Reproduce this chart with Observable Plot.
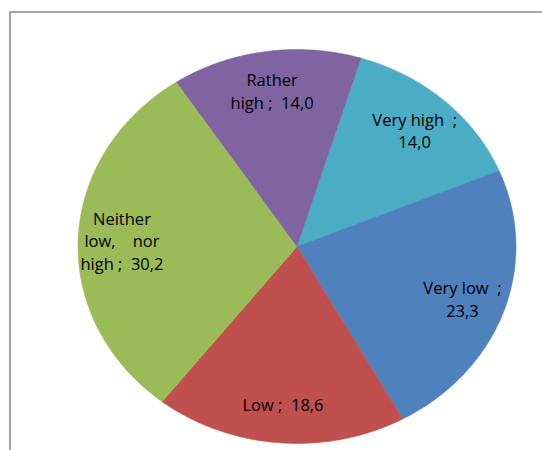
<!DOCTYPE html>
<html>
<head>
<meta charset="utf-8">
<script src="https://cdn.jsdelivr.net/npm/d3@7"></script>
<script src="https://cdn.jsdelivr.net/npm/@observablehq/plot@0.6"></script>
<style>
  html, body { margin: 0; padding: 0; background: #fff; }
  #wrap { position: relative; width: 542px; height: 450px; overflow: hidden; }
  #border { position: absolute; left: 9px; top: 11px; width: 600px; height: 600px;
            border-left: 2px solid #a3a3a3; border-top: 2px solid #a3a3a3; box-sizing: border-box; }
  #chart { position: absolute; left: 0; top: 0; }
  #chart text { white-space: pre; }
</style>
</head>
<body>
<div id="wrap"><div id="border"></div><div id="chart"></div></div>
<script>
// ---- data ----
const categories = ["Very high", "Very low", "Low", "Neither low, nor high", "Rather high"];
const values = [14.0, 23.3, 18.6, 30.2, 14.0];
const labelPrefixes = ["Very high  ;\n", "Very low  ;\n", "Low ;  ", "Neither\nlow,    nor\nhigh ;  ", "Rather\nhigh ;  "];
const colors = ["#4BACC6", "#4F81BD", "#C0504D", "#9BBB59", "#8064A2"];

// ---- geometry ----
const startDeg = 17;          // rotation of first slice (clockwise from top)
const labelR = 0.8;           // label radius as fraction of pie radius
const total = d3.sum(values);
const fmt = v => v.toFixed(1).replace(".", ",");

const slicePts = [];
const labelData = [];
let acc = 0;
categories.forEach((cat, i) => {
  const a0 = startDeg + acc / total * 360;
  acc += values[i];
  const a1 = startDeg + acc / total * 360;
  slicePts.push({cat, x: 0, y: 0});
  const n = Math.max(2, Math.ceil((a1 - a0) / 0.5));
  for (let k = 0; k <= n; k++) {
    const a = (a0 + (a1 - a0) * k / n) * Math.PI / 180;
    slicePts.push({cat, x: Math.sin(a), y: Math.cos(a)});
  }
  slicePts.push({cat, x: 0, y: 0});
  const am = (a0 + a1) / 2 * Math.PI / 180;
  labelData.push({cat, x: labelR * Math.sin(am), y: labelR * Math.cos(am), text: labelPrefixes[i] + fmt(values[i])});
});

const chart = Plot.plot({
  width: 542,
  height: 450,
  margin: 0,
  x: {domain: [-1, 1], range: [77.5, 515.5], axis: null},
  y: {domain: [-1, 1], range: [443, 49], axis: null},
  color: {domain: categories, range: colors},
  marks: [
    Plot.line(slicePts, {x: "x", y: "y", z: "cat", fill: "cat", stroke: "cat", strokeWidth: 0.5, curve: "linear"}),
    Plot.text(labelData, {x: "x", y: "y", text: "text", fill: "#000", fontSize: 16.5, lineHeight: 1.38, fontFamily: "Open Sans"})
  ],
  style: {background: "transparent"}
});
document.getElementById("chart").appendChild(chart);
</script>
</body>
</html>
